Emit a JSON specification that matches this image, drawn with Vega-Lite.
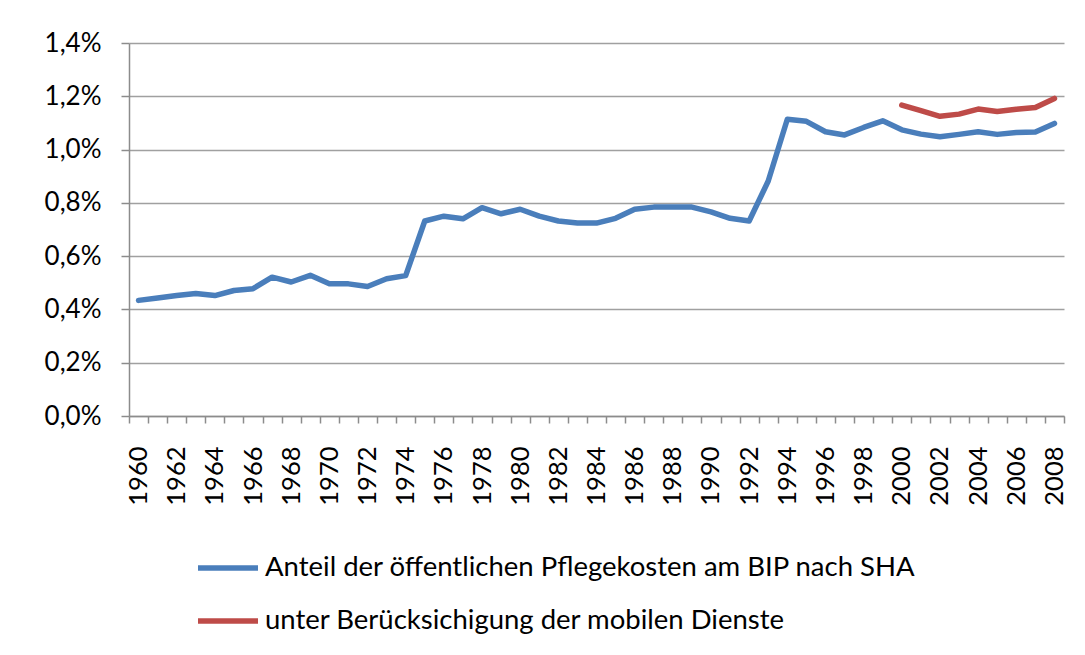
{
  "$schema": "https://vega.github.io/schema/vega-lite/v6.json",
  "width": 935,
  "height": 373,
  "autosize": {"type": "none"},
  "padding": {"left": 129, "top": 43, "right": 21, "bottom": 239},
  "background": "white",
  "config": {
    "view": {"stroke": null},
    "font": "Lato"
  },
  "data": {
    "values": [
      {"year": 1960, "series": "Anteil der öffentlichen Pflegekosten am BIP nach SHA", "value": 0.434},
      {"year": 1961, "series": "Anteil der öffentlichen Pflegekosten am BIP nach SHA", "value": 0.443},
      {"year": 1962, "series": "Anteil der öffentlichen Pflegekosten am BIP nach SHA", "value": 0.452},
      {"year": 1963, "series": "Anteil der öffentlichen Pflegekosten am BIP nach SHA", "value": 0.460},
      {"year": 1964, "series": "Anteil der öffentlichen Pflegekosten am BIP nach SHA", "value": 0.452},
      {"year": 1965, "series": "Anteil der öffentlichen Pflegekosten am BIP nach SHA", "value": 0.471},
      {"year": 1966, "series": "Anteil der öffentlichen Pflegekosten am BIP nach SHA", "value": 0.478},
      {"year": 1967, "series": "Anteil der öffentlichen Pflegekosten am BIP nach SHA", "value": 0.521},
      {"year": 1968, "series": "Anteil der öffentlichen Pflegekosten am BIP nach SHA", "value": 0.503},
      {"year": 1969, "series": "Anteil der öffentlichen Pflegekosten am BIP nach SHA", "value": 0.528},
      {"year": 1970, "series": "Anteil der öffentlichen Pflegekosten am BIP nach SHA", "value": 0.496},
      {"year": 1971, "series": "Anteil der öffentlichen Pflegekosten am BIP nach SHA", "value": 0.496},
      {"year": 1972, "series": "Anteil der öffentlichen Pflegekosten am BIP nach SHA", "value": 0.486},
      {"year": 1973, "series": "Anteil der öffentlichen Pflegekosten am BIP nach SHA", "value": 0.515},
      {"year": 1974, "series": "Anteil der öffentlichen Pflegekosten am BIP nach SHA", "value": 0.527},
      {"year": 1975, "series": "Anteil der öffentlichen Pflegekosten am BIP nach SHA", "value": 0.732},
      {"year": 1976, "series": "Anteil der öffentlichen Pflegekosten am BIP nach SHA", "value": 0.750},
      {"year": 1977, "series": "Anteil der öffentlichen Pflegekosten am BIP nach SHA", "value": 0.740},
      {"year": 1978, "series": "Anteil der öffentlichen Pflegekosten am BIP nach SHA", "value": 0.782},
      {"year": 1979, "series": "Anteil der öffentlichen Pflegekosten am BIP nach SHA", "value": 0.759},
      {"year": 1980, "series": "Anteil der öffentlichen Pflegekosten am BIP nach SHA", "value": 0.776},
      {"year": 1981, "series": "Anteil der öffentlichen Pflegekosten am BIP nach SHA", "value": 0.750},
      {"year": 1982, "series": "Anteil der öffentlichen Pflegekosten am BIP nach SHA", "value": 0.732},
      {"year": 1983, "series": "Anteil der öffentlichen Pflegekosten am BIP nach SHA", "value": 0.724},
      {"year": 1984, "series": "Anteil der öffentlichen Pflegekosten am BIP nach SHA", "value": 0.724},
      {"year": 1985, "series": "Anteil der öffentlichen Pflegekosten am BIP nach SHA", "value": 0.742},
      {"year": 1986, "series": "Anteil der öffentlichen Pflegekosten am BIP nach SHA", "value": 0.776},
      {"year": 1987, "series": "Anteil der öffentlichen Pflegekosten am BIP nach SHA", "value": 0.784},
      {"year": 1988, "series": "Anteil der öffentlichen Pflegekosten am BIP nach SHA", "value": 0.784},
      {"year": 1989, "series": "Anteil der öffentlichen Pflegekosten am BIP nach SHA", "value": 0.784},
      {"year": 1990, "series": "Anteil der öffentlichen Pflegekosten am BIP nach SHA", "value": 0.766},
      {"year": 1991, "series": "Anteil der öffentlichen Pflegekosten am BIP nach SHA", "value": 0.742},
      {"year": 1992, "series": "Anteil der öffentlichen Pflegekosten am BIP nach SHA", "value": 0.732},
      {"year": 1993, "series": "Anteil der öffentlichen Pflegekosten am BIP nach SHA", "value": 0.882},
      {"year": 1994, "series": "Anteil der öffentlichen Pflegekosten am BIP nach SHA", "value": 1.114},
      {"year": 1995, "series": "Anteil der öffentlichen Pflegekosten am BIP nach SHA", "value": 1.106},
      {"year": 1996, "series": "Anteil der öffentlichen Pflegekosten am BIP nach SHA", "value": 1.067},
      {"year": 1997, "series": "Anteil der öffentlichen Pflegekosten am BIP nach SHA", "value": 1.055},
      {"year": 1998, "series": "Anteil der öffentlichen Pflegekosten am BIP nach SHA", "value": 1.083},
      {"year": 1999, "series": "Anteil der öffentlichen Pflegekosten am BIP nach SHA", "value": 1.108},
      {"year": 2000, "series": "Anteil der öffentlichen Pflegekosten am BIP nach SHA", "value": 1.074},
      {"year": 2001, "series": "Anteil der öffentlichen Pflegekosten am BIP nach SHA", "value": 1.058},
      {"year": 2002, "series": "Anteil der öffentlichen Pflegekosten am BIP nach SHA", "value": 1.048},
      {"year": 2003, "series": "Anteil der öffentlichen Pflegekosten am BIP nach SHA", "value": 1.057},
      {"year": 2004, "series": "Anteil der öffentlichen Pflegekosten am BIP nach SHA", "value": 1.067},
      {"year": 2005, "series": "Anteil der öffentlichen Pflegekosten am BIP nach SHA", "value": 1.057},
      {"year": 2006, "series": "Anteil der öffentlichen Pflegekosten am BIP nach SHA", "value": 1.064},
      {"year": 2007, "series": "Anteil der öffentlichen Pflegekosten am BIP nach SHA", "value": 1.066},
      {"year": 2008, "series": "Anteil der öffentlichen Pflegekosten am BIP nach SHA", "value": 1.098},
      {"year": 2000, "series": "unter Berücksichigung der mobilen Dienste", "value": 1.167},
      {"year": 2001, "series": "unter Berücksichigung der mobilen Dienste", "value": 1.146},
      {"year": 2002, "series": "unter Berücksichigung der mobilen Dienste", "value": 1.125},
      {"year": 2003, "series": "unter Berücksichigung der mobilen Dienste", "value": 1.133},
      {"year": 2004, "series": "unter Berücksichigung der mobilen Dienste", "value": 1.152},
      {"year": 2005, "series": "unter Berücksichigung der mobilen Dienste", "value": 1.143},
      {"year": 2006, "series": "unter Berücksichigung der mobilen Dienste", "value": 1.151},
      {"year": 2007, "series": "unter Berücksichigung der mobilen Dienste", "value": 1.158},
      {"year": 2008, "series": "unter Berücksichigung der mobilen Dienste", "value": 1.192}
    ]
  },
  "mark": {"type": "line", "strokeWidth": 5.5, "strokeCap": "round", "strokeJoin": "round"},
  "encoding": {
    "x": {
      "field": "year",
      "type": "ordinal",
      "bandPosition": 0.5,
      "scale": {"type": "band", "paddingInner": 0, "paddingOuter": 0},
      "axis": {
        "title": null,
        "tickBand": "extent",
        "grid": false,
        "domainColor": "#8C8C8C",
        "domainWidth": 1.5,
        "tickColor": "#8C8C8C",
        "tickWidth": 1.5,
        "tickSize": 7,
        "labelAngle": -90,
        "labelPadding": 23,
        "labelFont": "Lato",
        "labelFontSize": 25.5,
        "labelColor": "#000000",
        "labelExpr": "datum.value % 2 == 0 ? datum.label : ''"
      }
    },
    "y": {
      "field": "value",
      "type": "quantitative",
      "scale": {"domain": [0, 1.4], "nice": false, "zero": true},
      "axis": {
        "title": null,
        "values": [0, 0.2, 0.4, 0.6, 0.8, 1.0, 1.2, 1.4],
        "grid": true,
        "gridColor": "#A0A0A0",
        "gridWidth": 1.5,
        "domainColor": "#8C8C8C",
        "domainWidth": 1.5,
        "tickColor": "#8C8C8C",
        "tickWidth": 1.5,
        "tickSize": 8,
        "labelPadding": 20,
        "labelFont": "Lato",
        "labelFontSize": 26,
        "labelColor": "#000000",
        "labelExpr": "replace(format(datum.value, '.1f'), '.', ',') + '%'"
      }
    },
    "color": {
      "field": "series",
      "type": "nominal",
      "scale": {
        "domain": ["Anteil der öffentlichen Pflegekosten am BIP nach SHA", "unter Berücksichigung der mobilen Dienste"],
        "range": ["#4A7EBB", "#BE4B48"]
      },
      "legend": {
        "title": null,
        "orient": "none",
        "legendX": 66,
        "legendY": 492,
        "symbolType": "stroke",
        "symbolSize": 3600,
        "symbolStrokeWidth": 5.5,
        "labelFont": "Lato",
        "labelFontSize": 27.5,
        "labelColor": "#000000",
        "labelOffset": 4,
        "labelLimit": 1000,
        "rowPadding": 6
      }
    }
  }
}
